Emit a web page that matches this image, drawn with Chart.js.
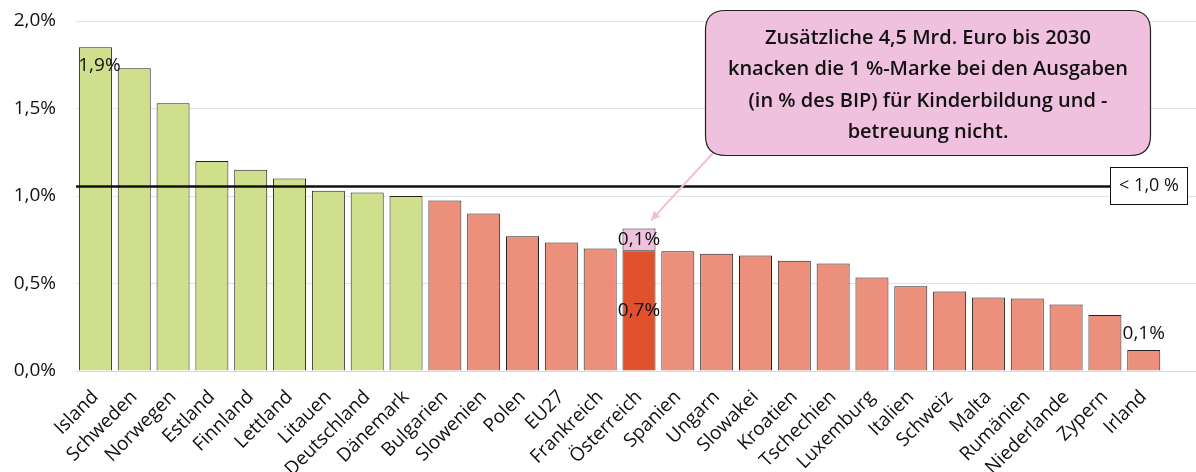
<!DOCTYPE html>
<html>
<head>
<meta charset="utf-8">
<script src="https://cdn.jsdelivr.net/npm/chart.js@4.4.1/dist/chart.umd.min.js"></script>
<style>
  html, body { margin: 0; padding: 0; background: #fff; overflow: hidden; }
  #wrap { width: 1202px; height: 472px; position: relative; }
</style>
</head>
<body>
<div id="wrap"><canvas id="chart"></canvas></div>
<script>
const countries = ["Island", "Schweden", "Norwegen", "Estland", "Finnland", "Lettland", "Litauen", "Deutschland", "Dänemark", "Bulgarien", "Slowenien", "Polen", "EU27", "Frankreich", "Österreich", "Spanien", "Ungarn", "Slowakei", "Kroatien", "Tschechien", "Luxemburg", "Italien", "Schweiz", "Malta", "Rumänien", "Niederlande", "Zypern", "Irland", ""];
const spending = [1.85, 1.73, 1.53, 1.20, 1.15, 1.10, 1.03, 1.02, 1.00, 0.975, 0.90, 0.77, 0.735, 0.70, 0.69, 0.685, 0.67, 0.66, 0.63, 0.615, 0.535, 0.485, 0.455, 0.42, 0.415, 0.38, 0.32, 0.12, null];
const extra = [null, null, null, null, null, null, null, null, null, null, null, null, null, null, 0.125, null, null, null, null, null, null, null, null, null, null, null, null, null, null];
const threshold = 1.055;
const yTicks = [0, 0.5, 1.0, 1.5, 2.0];
const barLabels = [
  { index: 0, value: 1.85, text: "1,9%" },
  { index: 14, value: 0.69, text: "0,7%" },
  { index: 14, value: 0.815, text: "0,1%" },
  { index: 27, value: 0.12, text: "0,1%" }
];
const noteLines = ["Zusätzliche 4,5 Mrd. Euro bis 2030", "knacken die 1 %-Marke bei den Ausgaben", "(in % des BIP) für Kinderbildung und -", "betreuung nicht."];

const FONT = "'Open Sans', 'Noto Sans', sans-serif";

const barColors = countries.map((c, i) => {
  if (c === "Österreich") return "#e2512e";
  return spending[i] >= 1.0 ? "#d0df8c" : "#ec907c";
});

function roundRect(ctx, x, y, w, h, r) {
  ctx.beginPath();
  ctx.moveTo(x + r, y);
  ctx.lineTo(x + w - r, y);
  ctx.quadraticCurveTo(x + w, y, x + w, y + r);
  ctx.lineTo(x + w, y + h - r);
  ctx.quadraticCurveTo(x + w, y + h, x + w - r, y + h);
  ctx.lineTo(x + r, y + h);
  ctx.quadraticCurveTo(x, y + h, x, y + h - r);
  ctx.lineTo(x, y + r);
  ctx.quadraticCurveTo(x, y, x + r, y);
  ctx.closePath();
}

const overlay = {
  id: "overlay",
  afterDatasetsDraw(chart) {
    const { ctx, scales } = chart;
    const xs = scales.x, ys = scales.y;
    ctx.save();

    // threshold line + label box
    const ty = ys.getPixelForValue(threshold);
    ctx.strokeStyle = "#111";
    ctx.lineWidth = 2.5;
    ctx.beginPath();
    ctx.moveTo(chart.chartArea.left, ty);
    ctx.lineTo(1110, ty);
    ctx.stroke();
    ctx.fillStyle = "#fff";
    ctx.lineWidth = 1;
    ctx.fillRect(1110.5, 167.5, 77, 37);
    ctx.strokeRect(1110.5, 167.5, 77, 37);
    ctx.fillStyle = "#111";
    ctx.font = "18px " + FONT;
    ctx.textAlign = "center";
    ctx.textBaseline = "middle";
    ctx.fillText("< 1,0 %", 1149, 186);

    // value labels
    ctx.font = "19px " + FONT;
    barLabels.forEach(l => {
      const x = xs.getPixelForValue(l.index);
      const y = ys.getPixelForValue(l.value);
      if (l.index === 0) {
        ctx.fillText(l.text, x + 4, y + 18);
      } else if (l.index === 27) {
        ctx.fillText(l.text, x, y - 16);
      } else if (l.value > 0.75) {
        ctx.fillText(l.text, x, y + 11);
      } else {
        ctx.fillText(l.text, x, y + 60);
      }
    });

    // arrow from note to Austria bar
    const ax = xs.getPixelForValue(14) + 12;
    const ay = ys.getPixelForValue(extra[14] + spending[14]) - 8;
    const sx = 713, sy = 153;
    ctx.strokeStyle = "#f0bedc";
    ctx.fillStyle = "#f0bedc";
    ctx.lineWidth = 2;
    ctx.beginPath();
    ctx.moveTo(sx, sy);
    ctx.lineTo(ax, ay);
    ctx.stroke();
    const ang = Math.atan2(ay - sy, ax - sx);
    ctx.beginPath();
    ctx.moveTo(ax, ay);
    ctx.lineTo(ax - 10 * Math.cos(ang - 0.45), ay - 10 * Math.sin(ang - 0.45));
    ctx.lineTo(ax - 10 * Math.cos(ang + 0.45), ay - 10 * Math.sin(ang + 0.45));
    ctx.closePath();
    ctx.fill();

    // note box
    roundRect(ctx, 705.5, 10.5, 445, 145, 20);
    ctx.fillStyle = "#f0c1de";
    ctx.fill();
    ctx.strokeStyle = "#222";
    ctx.lineWidth = 1.2;
    ctx.stroke();
    ctx.fillStyle = "#111";
    ctx.font = "600 20px " + FONT;
    noteLines.forEach((t, i) => ctx.fillText(t, 928, 38 + i * 31.5));

    ctx.restore();
  }
};

new Chart(document.getElementById("chart"), {
  type: "bar",
  data: {
    labels: countries,
    datasets: [
      {
        data: spending,
        backgroundColor: barColors,
        borderColor: "#222",
        borderWidth: 1,
        barPercentage: 0.85,
        categoryPercentage: 1.0
      },
      {
        data: extra,
        backgroundColor: "#f0c1de",
        borderColor: "#222",
        borderWidth: 1,
        barPercentage: 0.85,
        categoryPercentage: 1.0
      }
    ]
  },
  options: {
    responsive: true,
    maintainAspectRatio: false,
    animation: false,
    layout: { padding: { top: 21, right: 0, left: 0, bottom: 0 } },
    plugins: {
      legend: { display: false },
      tooltip: { enabled: false }
    },
    scales: {
      x: {
        stacked: true,
        grid: { display: false },
        border: { color: "#d9d9d9", width: 1 },
        ticks: {
          color: "#111",
          font: { family: FONT, size: 19 },
          minRotation: 45,
          maxRotation: 45,
          autoSkip: false,
          padding: 7
        },
        afterFit(scale) {
          scale.height = 101;
          scale.paddingLeft = 0;
          scale.paddingRight = 0;
        }
      },
      y: {
        stacked: true,
        min: 0,
        max: 2.0,
        afterBuildTicks(scale) { scale.ticks = yTicks.map(v => ({ value: v })); },
        grid: { color: "#e3e3e3", lineWidth: 1, drawTicks: false },
        border: { display: false },
        ticks: {
          color: "#111",
          font: { family: FONT, size: 19 },
          padding: 20,
          callback: v => v.toFixed(1).replace(".", ",") + "%"
        },
        afterFit(scale) {
          scale.width = 76;
          scale.paddingTop = 0;
          scale.paddingBottom = 0;
        }
      }
    }
  },
  plugins: [overlay]
});
</script>
</body>
</html>
